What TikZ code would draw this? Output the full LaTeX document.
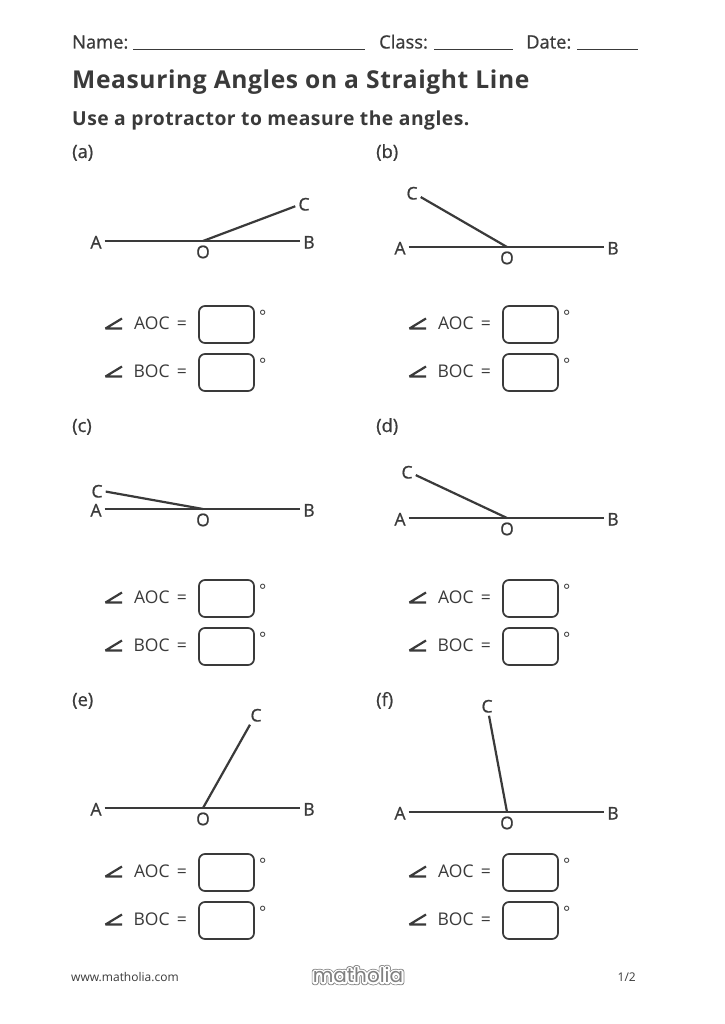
\documentclass[tikz,border=0pt]{standalone}
\usepackage{fontspec}
\setmainfont{Open Sans}
\newfontfamily\headfont[FakeBold=0.8]{Open Sans}
\newfontfamily\spacedfont[LetterSpace=2.5]{Open Sans}
\newfontfamily\logofont{Poppins}
\usetikzlibrary{positioning}
\definecolor{inkgrey}{HTML}{3A3A3A}
\definecolor{logogrey}{HTML}{808080}
% stroked text for the logo: width, colour
\newcommand{\outlined}[2]{\special{pdf:code q #1 w 1 j 1 Tr}\textcolor{#2}{\logofont matholia}\special{pdf:code Q}}
\begin{document}
\begin{tikzpicture}[x=1pt,y=-1pt,inkgrey,
    headtext/.style={text=inkgrey,font=\headfont\fontsize{18.3}{20}\selectfont,inner sep=0pt,anchor=base west},
    titletext/.style={text=inkgrey,font=\spacedfont\bfseries\fontsize{24.6}{28}\selectfont,inner sep=0pt,anchor=base west},
    asktext/.style={text=inkgrey,font=\spacedfont\bfseries\fontsize{19.3}{22}\selectfont,inner sep=0pt,anchor=base west},
    pointlabel/.style={text=inkgrey,font=\headfont\fontsize{17.5}{18}\selectfont,inner sep=3pt,text height=15pt,text depth=0pt},
    answertext/.style={text=inkgrey,font=\fontsize{17.5}{18}\selectfont,inner sep=0pt,text height=12pt,text depth=0pt},
    answerbox/.style={draw=inkgrey,line width=1.7pt,rounded corners=6pt,minimum width=55pt,minimum height=37pt,inner sep=0pt},
    footertext/.style={text=inkgrey,font=\fontsize{12}{14}\selectfont,inner sep=0pt},
    writeline/.style={line width=1pt},
    armline/.style={line width=2.2pt}]
  \useasboundingbox (0,0) rectangle (724,1024);
  \fill[white] (0,0) rectangle (724,1024);

  \node[headtext] (nametext) at (72,48.5) {Name:};
  \node[headtext] (classtext) at (379,48.5) {Class:};
  \node[headtext] (datetext) at (526,48.5) {Date:};
  \coordinate (nameA) at (133,50);
  \coordinate (nameB) at (365,50);
  \coordinate (classA) at (434,50);
  \coordinate (classB) at (513,50);
  \coordinate (dateA) at (577,50);
  \coordinate (dateB) at (638,50);
  \draw[writeline] (nameA) -- (nameB);
  \draw[writeline] (classA) -- (classB);
  \draw[writeline] (dateA) -- (dateB);
  \node[titletext] (title) at (72,88.5) {Measuring Angles on a Straight Line};
  \node[asktext] (ask) at (72,125.5) {Use a protractor to measure the angles.};

  \foreach \p/\ox/\oy/\ry/\cx/\cy in {a/203/241/158/304/203, b/507/247/158/412/192,
      c/203/509/432/97/490, d/507/518/432/407/471,
      e/203/808/706/256/714, f/507/812/706/487/705} {
    \node[headtext] (part\p) at (\ox-131,\ry) {(\p)};
    \coordinate (vertex\p) at (\ox,\oy);
    \node[pointlabel] (A\p) at (\ox-107,\oy) {A};
    \node[pointlabel] (B\p) at (\ox+106,\oy) {B};
    \node[pointlabel] (C\p) at (\cx,\cy) {C};
    \node[pointlabel,below=-1pt of vertex\p] (O\p) {O};
    \draw[armline] (A\p) -- (B\p);
    \draw[armline] (vertex\p) -- (C\p);
    \foreach \ang/\dy in {AOC/166.5,BOC/214.5} {
      \node[answerbox] (box\p\ang) at (\ox+23.5,\ry+\dy) {};
      \node[answertext,left=11pt of box\p\ang,yshift=1pt] (eq\p\ang) {=};
      \node[answertext,left=7pt of eq\p\ang] (name\p\ang) {\ang};
      \node[answertext,font=\fontsize{17}{18}\selectfont,right=4pt of box\p\ang,yshift=8pt] (deg\p\ang) {°};
      \coordinate (apex\p\ang) at (\ox-97.5,\ry+\dy+4);
      \draw[armline,line join=bevel] (\ox-81,\ry+\dy-6) -- (apex\p\ang) -- (\ox-81,\ry+\dy+4);
    }
  }

  \node[footertext,anchor=west] (site) at (71,977) {www.matholia.com};
  \node[footertext,anchor=east] (page) at (636,977) {1/2};
  \node[inner sep=0pt,font=\fontsize{20}{24}\selectfont] (logoback) at (358,975) {\outlined{5.2}{logogrey}};
  \node[inner sep=0pt,font=\fontsize{20}{24}\selectfont] (logomid) at (358,975) {\outlined{3.8}{white}};
  \node[inner sep=0pt,font=\fontsize{20}{24}\selectfont,text=logogrey] (logo) at (358,975) {\logofont matholia};
\end{tikzpicture}
\end{document}
